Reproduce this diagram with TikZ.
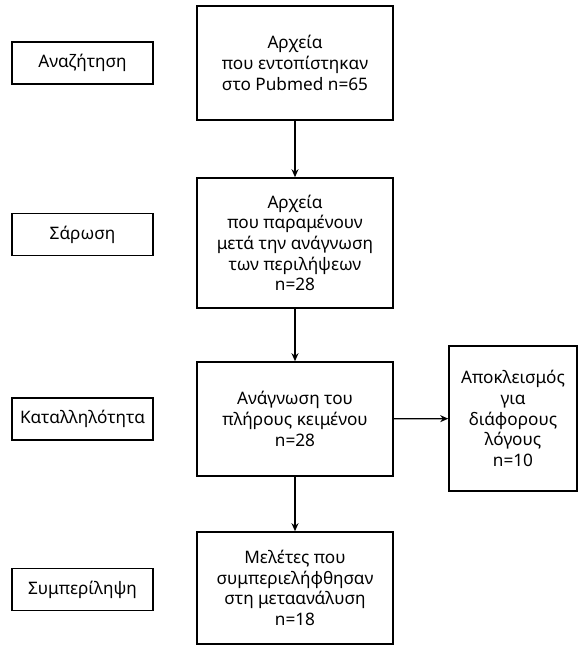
\documentclass[tikz,border=0pt]{standalone}
\usepackage{fontspec}
\setmainfont{Noto Sans}
\usetikzlibrary{arrows.meta}
\tikzset{
  phase/.style={draw, line width=1.6pt, minimum width=141pt, minimum height=42pt, inner sep=0pt,
    font=\fontsize{17.2}{20.7}\selectfont},
  flowbox/.style={draw, line width=1.6pt, minimum width=196pt, align=center, inner sep=0pt,
    font=\fontsize{17.2}{20.7}\selectfont},
  flow/.style={line width=1.2pt, -{Stealth[length=8pt,width=7pt]}}
}
\begin{document}
\begin{tikzpicture}[x=1pt,y=-1pt]
\useasboundingbox (0,0) rectangle (578,645);
\node[phase] (search) at (82.5,63) {Αναζήτηση};
\node[phase] (screen) at (82.5,234.5) {Σάρωση};
\node[phase] (elig) at (82.5,419) {Καταλληλότητα};
\node[phase] (incl) at (82.5,589.5) {Συμπερίληψη};
\node[flowbox,minimum height=114pt] (found) at (295,63) {Αρχεία\\που εντοπίστηκαν\\στο Pubmed n=65};
\node[flowbox,minimum height=130pt] (kept) at (295,243) {Αρχεία\\που παραμένουν\\μετά την ανάγνωση\\των περιλήψεων\\n=28};
\node[flowbox,minimum height=114pt] (full) at (295,419) {Ανάγνωση του\\πλήρους κειμένου\\n=28};
\node[flowbox,minimum height=112pt] (meta) at (295,588) {Μελέτες που\\συμπεριελήφθησαν\\στη μεταανάλυση\\n=18};
\node[flowbox,minimum width=128pt,minimum height=145pt] (excl) at (513,418.5) {Αποκλεισμός\\για\\διάφορους\\λόγους\\n=10};
\draw[flow] (found) -- (kept);
\draw[flow] (kept) -- (full);
\draw[flow] (full) -- (meta);
\draw[flow] (full) -- (excl);
\end{tikzpicture}
\end{document}
